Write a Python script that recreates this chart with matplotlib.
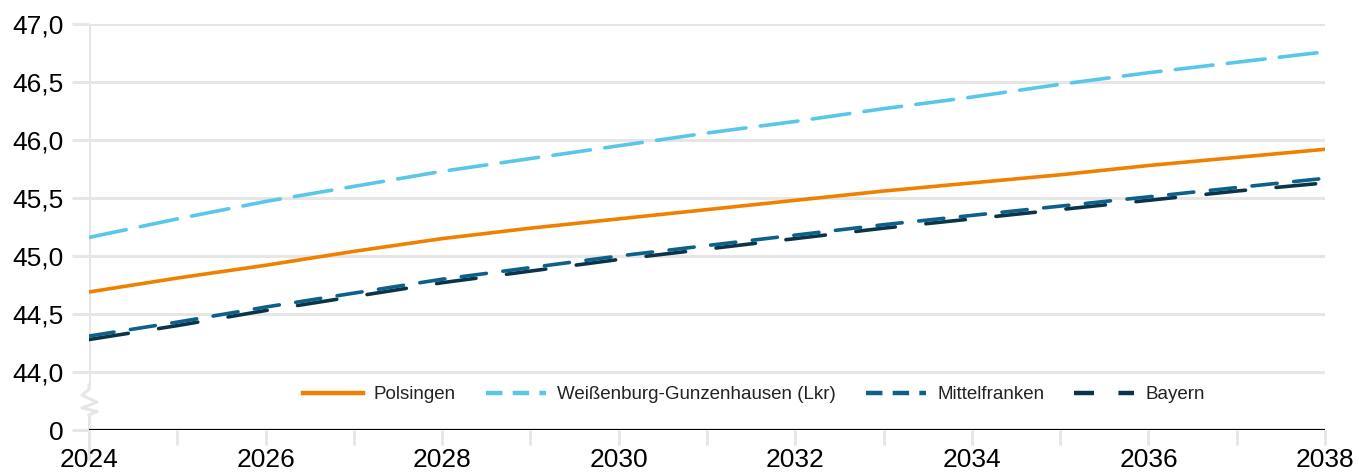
import matplotlib
matplotlib.use("Agg")
import matplotlib.pyplot as plt
from matplotlib.lines import Line2D
from matplotlib.ticker import FuncFormatter

plt.rcParams["font.family"] = ["Liberation Sans", "DejaVu Sans"]

# ----- data -----
years = list(range(2024, 2039))
polsingen = [44.69, 44.81, 44.92, 45.04, 45.15, 45.24, 45.32, 45.40,
             45.48, 45.56, 45.63, 45.70, 45.78, 45.85, 45.92]
weissenburg = [45.16, 45.32, 45.47, 45.60, 45.73, 45.84, 45.95, 46.06,
               46.16, 46.27, 46.37, 46.48, 46.58, 46.67, 46.76]
mittelfranken = [44.31, 44.43, 44.56, 44.68, 44.80, 44.90, 45.00, 45.09,
                 45.18, 45.27, 45.35, 45.43, 45.51, 45.59, 45.67]
bayern = [44.28, 44.40, 44.53, 44.65, 44.77, 44.87, 44.97, 45.06,
          45.15, 45.24, 45.32, 45.40, 45.48, 45.56, 45.63]
names = ["Polsingen", "Weißenburg-Gunzenhausen (Lkr)", "Mittelfranken", "Bayern"]

ytick_vals = [43.5, 44.0, 44.5, 45.0, 45.5, 46.0, 46.5, 47.0]
# 43.5 is the slot of the "0" below the axis break
ytick_labels = ["0", "44,0", "44,5", "45,0", "45,5", "46,0", "46,5", "47,0"]
xtick_labels = [2024, 2026, 2028, 2030, 2032, 2034, 2036, 2038]

colors = ["#f08000", "#5ac6ea", "#0d6089", "#0b3448"]
grid_col = "#e6e6e6"
lw = 2.6

fig = plt.figure(figsize=(13.59, 4.76), dpi=100)
ax = fig.add_axes([0.0655, 0.0966, 0.9095, 0.853])

ax.plot(years, polsingen, color=colors[0], lw=lw, solid_capstyle="round")
ax.plot(years, weissenburg, color=colors[1], lw=lw, dashes=(10.5, 4.0),
        dash_capstyle="round")
ax.plot(years, bayern, color=colors[3], lw=lw, dashes=(11, 8.5),
        dash_capstyle="round")
ax.plot(years, mittelfranken, color=colors[2], lw=lw, dashes=(7.0, 4.6),
        dash_capstyle="round")

ax.set_xlim(2024, 2038)
ax.set_ylim(43.5, 47.0)

for s in ax.spines.values():
    s.set_visible(False)

# gridlines
for y in ytick_vals[1:]:
    ax.axhline(y, color=grid_col, lw=2.2, zorder=0, xmax=0.998)
ax.axhline(43.5, color="black", lw=2.3, zorder=3, xmax=0.998)

# left axis line with break
ax.plot([2024, 2024], [43.89, 47.0], color=grid_col, lw=2.2, zorder=0)
ax.plot([2024, 2024], [43.25, 43.63], color=grid_col, lw=2.2, zorder=0, clip_on=False)
zx = [2024, 2024, 2023.92, 2024.09, 2023.92, 2024.09, 2024, 2024]
zy = [43.89, 43.85, 43.80, 43.74, 43.69, 43.66, 43.63, 43.63]
ax.plot(zx, zy, color=grid_col, lw=2.2, zorder=0, clip_on=False)

ax.set_yticks(ytick_vals)
ax.set_yticklabels(ytick_labels)
ax.set_xticks(years)
ax.xaxis.set_major_formatter(FuncFormatter(lambda v, p: str(int(v)) if int(v) in xtick_labels else ""))
ax.tick_params(axis="y", length=12, width=2.2, color=grid_col, labelsize=19, pad=6)
ax.tick_params(axis="x", length=11, width=2, color=grid_col, labelsize=19, pad=2)

# legend handles drawn like the original legend
handles = [
    Line2D([], [], color=colors[0], lw=3.2),
    Line2D([], [], color=colors[1], lw=3.2, dashes=(3.7, 2.3)),
    Line2D([], [], color=colors[2], lw=3.2, dashes=(3.7, 2.3)),
    Line2D([], [], color=colors[3], lw=3.2, dashes=(4.5, 5.5)),
]
ax.legend(handles, names, loc="center", bbox_to_anchor=(0.538, 0.087), ncol=4,
          frameon=False, fontsize=13.5, handlelength=3.2, columnspacing=1.6,
          handletextpad=0.6, labelcolor="#222222")

fig.savefig("out.png", dpi=100)
